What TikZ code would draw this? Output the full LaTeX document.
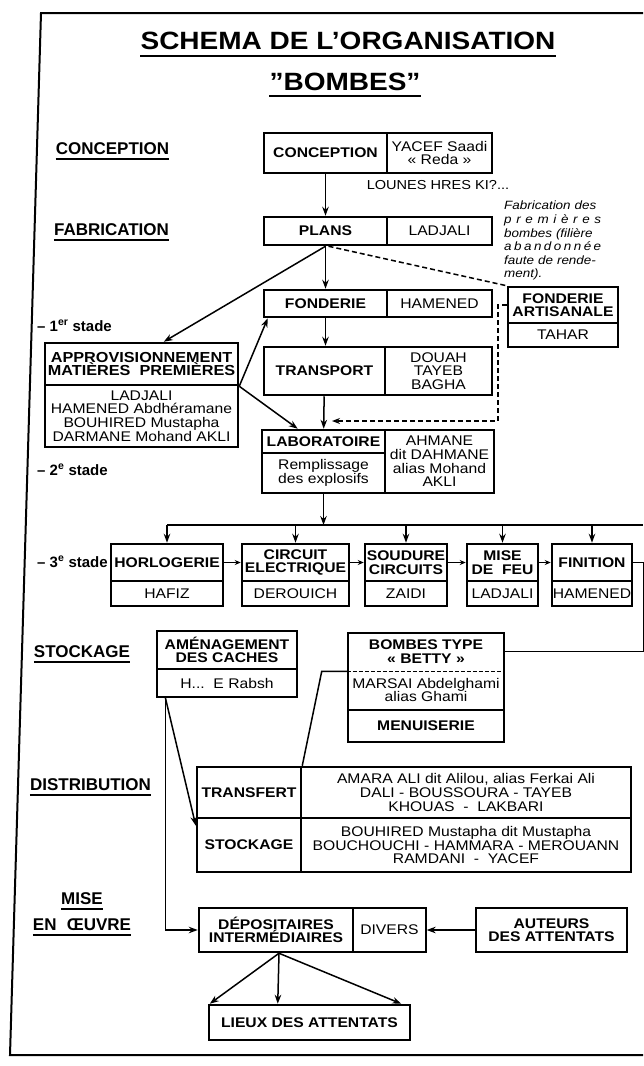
\documentclass[tikz,border=0pt]{standalone}
\usepackage{fontspec}
\setmainfont{Liberation Sans}[FakeStretch=1.12]
\newfontfamily\labelfont{Liberation Sans}
\usetikzlibrary{arrows.meta,calc}

\tikzset{
  cell/.style 2 args={minimum width=#1, minimum height=#2, inner sep=0pt, align=center},
  head/.style={draw, line width=2.5pt, font=\bfseries\fontsize{14}{13.5}\selectfont},
  people/.style={draw, line width=1.3pt, font=\fontsize{14}{13.6}\selectfont},
  heading/.style={font=\bfseries\fontsize{25}{28}\selectfont, inner xsep=0pt, inner ysep=6pt},
  section/.style={font=\labelfont\bfseries\fontsize{17}{20}\selectfont, inner xsep=0pt, inner ysep=4pt},
  stade/.style={font=\labelfont\bfseries\fontsize{15}{18}\selectfont, inner sep=0pt, anchor=base west},
  link/.style={line width=1.5pt, -{Stealth[length=9pt, width=6.5pt]}},
  short link/.style={line width=1.5pt, -{Stealth[length=6pt, width=5pt]}},
  rule/.style={line width=1.5pt},
  dash link/.style={line width=1.5pt, dash pattern=on 5pt off 3pt}
}

\begin{document}
\begin{tikzpicture}[x=1pt, y=-1pt]
\useasboundingbox (0,0) rectangle (643,1066);
% frame
\draw[line width=2pt] (643,13) -- (41,13) -- (10,1055) -- (643,1055);

% title and section labels
\node[heading] (titleA) at (348,41) {SCHEMA DE L’ORGANISATION};
\node[heading, inner ysep=5pt] (titleB) at (345,82) {"BOMBES"};
\node[section] (secConc) at (112.5,148.5) {CONCEPTION};
\node[section] (secFab) at (111.5,230) {FABRICATION};
\node[section] (secStock) at (82,651.5) {STOCKAGE};
\node[section] (secDist) at (90.5,785) {DISTRIBUTION};
\node[section] (secMise) at (82,899) {MISE};
\node[section] (secOeuvre) at (82,924.5) {EN\hspace{0.6em}ŒUVRE};
\foreach \n in {titleA,titleB,secConc,secFab,secStock,secDist,secMise,secOeuvre}
  \draw[line width=1.8pt] (\n.south west) -- (\n.south east);
\node[stade] (stadeA) at (37,331) {– 1\textsuperscript{er} stade};
\node[stade] (stadeB) at (37,475) {– 2\textsuperscript{e} stade};
\node[stade] (stadeC) at (37,567) {– 3\textsuperscript{e} stade};

% notes
\node[font=\fontsize{13}{14}\selectfont, inner sep=0pt] (lounes) at (438,185) {LOUNES HRES KI?...};
\node[anchor=north west, text width=97pt, inner sep=0pt, align=left,
  font=\itshape\fontsize{12}{13.6}\selectfont] (note) at (504,201) {%
  \makebox[\linewidth][s]{Fabrication des}\\
  \makebox[\linewidth][s]{p\hfil r\hfil e\hfil m\hfil i\hfil è\hfil r\hfil e\hfil s}\\
  \makebox[\linewidth][s]{bombes (filière}\\
  \makebox[\linewidth][s]{a\hfil b\hfil a\hfil n\hfil d\hfil o\hfil n\hfil n\hfil é\hfil e}\\
  \makebox[\linewidth][s]{faute de rende-}\\
  ment).};

% names (thin boxes)
\begin{scope}[every node/.style={people}]
\node[cell={105}{40}] (concN) at (439.5,153) {YACEF Saadi\\« Reda »};
\node[cell={105}{28}] (plansN) at (439.5,231) {LADJALI};
\node[cell={105}{27}] (fondN) at (439.5,303.5) {HAMENED};
\node[cell={107}{48}] (transN) at (438.5,371) {DOUAH\\TAYEB\\BAGHA};
\node[cell={123}{40}] (labS) at (323.5,473) {Remplissage\\des explosifs};
\node[cell={109}{63}] (labN) at (439.5,461.5) {AHMANE\\dit DAHMANE\\alias Mohand\\AKLI};
\node[cell={110}{24}] (artN) at (563,335) {TAHAR};
\node[cell={193}{62}] (approN) at (141.5,416) {LADJALI\\HAMENED Abdhéramane\\BOUHIRED Mustapha\\DARMANE Mohand AKLI};
\node[cell={112}{25}] (horlN) at (167,593.5) {HAFIZ};
\node[cell={107}{25}] (circN) at (295.5,593.5) {DEROUICH};
\node[cell={82}{25}] (soudN) at (406,593.5) {ZAIDI};
\node[cell={71}{25}] (miseN) at (502.5,593.5) {LADJALI};
\node[cell={80}{25}] (finiN) at (592,593.5) {HAMENED};
\node[cell={140}{28}] (amenN) at (227,683) {H...\ \ E Rabsh};
\node[cell={330}{51}] (trfN) at (466,792.5) {AMARA ALI dit Alilou, alias Ferkai Ali\\DALI - BOUSSOURA - TAYEB\\KHOUAS\ \ -\ \ LAKBARI};
\node[cell={330}{54}] (stoN) at (466,845) {BOUHIRED Mustapha dit Mustapha\\BOUCHOUCHI\ -\ HAMMARA\ -\ MEROUANN\\RAMDANI\ \ -\ \ YACEF};
\node[cell={73}{44}] (depN) at (389.5,930) {DIVERS};
\end{scope}

% headers (thick boxes)
\begin{scope}[every node/.style={head}]
\node[cell={123}{40}] (concH) at (325.5,153) {CONCEPTION};
\node[cell={123}{28}] (plansH) at (325.5,231) {PLANS};
\node[cell={123}{27}] (fondH) at (325.5,303.5) {FONDERIE};
\node[cell={121}{48}] (transH) at (324.5,371) {TRANSPORT};
\node[cell={123}{23}] (labH) at (323.5,441.5) {LABORATOIRE};
\node[cell={110}{36}] (artH) at (563,305) {FONDERIE\\ARTISANALE};
\node[cell={193}{42}, font=\bfseries\fontsize{14.5}{12.5}\selectfont] (approH) at (141.5,364) {APPROVISIONNEMENT\\MATIÈRES\ \ PREMIÈRES};
\node[cell={112}{37}] (horlH) at (167,562.5) {HORLOGERIE};
\node[cell={107}{37}] (circH) at (295.5,562.5) {CIRCUIT\\ELECTRIQUE};
\node[cell={82}{37}] (soudH) at (406,562.5) {SOUDURE\\CIRCUITS};
\node[cell={71}{37}] (miseH) at (502.5,562.5) {MISE\\DE\ \ FEU};
\node[cell={80}{37}] (finiH) at (592,562.5) {FINITION};
\node[cell={140}{38}] (amenH) at (227,650) {AMÉNAGEMENT\\DES CACHES};
\node[cell={156}{109}] (betty) at (426,687.5) {};
\node[cell={156}{37}, draw=none] (bettyH) at (426,651.5) {BOMBES TYPE\\« BETTY »};
\node[cell={156}{40}, people, draw=none] (bettyN) at (426,690) {MARSAI Abdelghami\\alias Ghami};
\node[cell={156}{32}] (bettyM) at (426,726) {MENUISERIE};
\node[cell={104}{51}] (trfH) at (249,792.5) {TRANSFERT};
\node[cell={104}{54}] (stoH) at (249,845) {STOCKAGE};
\node[cell={154}{44}] (depH) at (276,930) {DÉPOSITAIRES\\INTERMÉDIAIRES};
\node[cell={151}{44}] (aut) at (551.5,930) {AUTEURS\\DES ATTENTATS};
\node[cell={201}{35}] (lieux) at (309.5,1022.5) {LIEUX DES ATTENTATS};
\end{scope}
\draw[line width=1.5pt, dash pattern=on 4pt off 2pt] (bettyH.south west) -- (bettyH.south east);

% connectors
\coordinate (dashTip) at (332,421);
\coordinate (bus) at (322,525);
\coordinate (busEnd) at (643,525);
\begin{scope}[every edge/.style={draw, link}]
\path (concH) edge (plansH);
\path (plansH) edge (fondH);
\path (fondH.south) edge (fondH.south |- transH.north);
\path (transH) edge (labH);
\path (plansH.south) edge (approH.45);
\path (approH.south east) edge ($(fondH.south west)+(5,0)$);
\path (approH.south east) edge ($(labH.north west)+(37,0)$);
\path (labS.south) edge (labS.south |- bus);
\path (aut) edge (depN);
\path ([xshift=9pt]amenN.south west) edge (stoH.160);
\path ([xshift=3pt]depH.south) edge ([xshift=2pt]lieux.north west);
\path ([xshift=3pt]depH.south) edge ($(lieux.north west)+(70,0)$);
\path ([xshift=3pt]depH.south) edge ($(lieux.north east)+(-10,0)$);
\end{scope}
\draw[dash link] ([xshift=3pt]plansH.south) -- (artH.north west);
\draw[dash link, -{Stealth[length=8pt, width=6pt]}] (artH.west) -- ++(-9,0) |- (dashTip);
\draw[rule] (horlH.north |- bus) -- (busEnd);
\foreach \n in {horlH,circH,soudH,miseH,finiH}
  \draw[link] (\n.north |- bus) -- (\n.north);
\foreach \a/\b in {horlH/circH,circH/soudH,soudH/miseH,miseH/finiH}
  \draw[short link] (\a) -- (\b);
\draw[rule] (finiH.east) -- ++(10,0) |- (bettyH.east);
\draw[rule] (bettyH.south west) -- ++(-25,0) -- (trfH.north east);
\draw[link] ([xshift=9pt]amenN.south west) |- (depH.west);
\end{tikzpicture}
\end{document}
